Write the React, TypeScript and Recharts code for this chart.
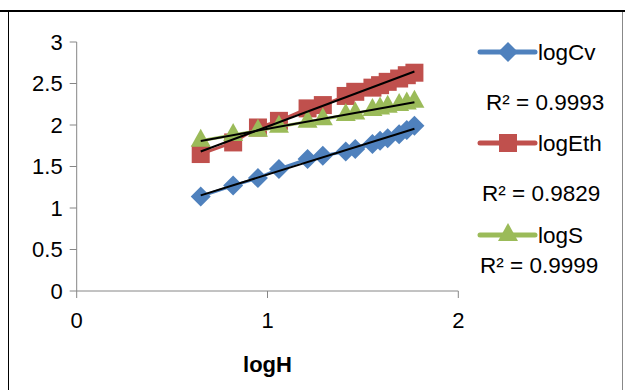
import React from "react";
import { ScatterChart, Scatter, XAxis, YAxis } from "recharts";

// logH values (shared by all three series)
const logH = [0.65, 0.82, 0.95, 1.06, 1.21, 1.29, 1.41, 1.46, 1.55, 1.59, 1.63, 1.69, 1.73, 1.77];
const logCv = [1.14, 1.27, 1.36, 1.47, 1.59, 1.63, 1.68, 1.71, 1.77, 1.81, 1.84, 1.89, 1.94, 1.99];
const logEth = [1.65, 1.79, 1.97, 2.05, 2.2, 2.24, 2.35, 2.4, 2.45, 2.48, 2.52, 2.56, 2.6, 2.63];
const logS = [1.81, 1.88, 1.93, 1.98, 2.04, 2.07, 2.12, 2.14, 2.18, 2.2, 2.22, 2.24, 2.26, 2.28];

const seriesNames = ["logCv", "logEth", "logS"];
const rSquared = ["R² = 0.9993", "R² = 0.9829", "R² = 0.9999"];
const xTicks = [0, 1, 2];
const yTicks = [0, 0.5, 1, 1.5, 2, 2.5, 3];

const BLUE = "#4F81BD";
const RED = "#C0504D";
const GREEN = "#9BBB59";
const AXIS = "#868686";
const FONT = "'Liberation Sans', Arial, sans-serif";

const toPoints = (ys: number[]) => logH.map((x, i) => ({ x, y: ys[i] }));

// least squares trendline, from min to max x
const trend = (ys: number[]) => {
  const n = logH.length;
  const mx = logH.reduce((a, b) => a + b, 0) / n;
  const my = ys.reduce((a, b) => a + b, 0) / n;
  let sxy = 0;
  let sxx = 0;
  logH.forEach((x, i) => {
    sxy += (x - mx) * (ys[i] - my);
    sxx += (x - mx) * (x - mx);
  });
  const b = sxy / sxx;
  const a = my - b * mx;
  const x0 = Math.min(...logH);
  const x1 = Math.max(...logH);
  return [
    { x: x0, y: a + b * x0 },
    { x: x1, y: a + b * x1 },
  ];
};

const Diamond = ({ cx, cy, fill }: any) => (
  <path d={`M${cx},${cy - 10} L${cx + 10},${cy} L${cx},${cy + 10} L${cx - 10},${cy} Z`} fill={fill} />
);
const Square = ({ cx, cy, fill }: any) => (
  <rect x={cx - 9} y={cy - 9} width={18} height={18} fill={fill} />
);
const Triangle = ({ cx, cy, fill }: any) => (
  <path d={`M${cx},${cy - 12} L${cx + 10},${cy + 6} L${cx - 10},${cy + 6} Z`} fill={fill} />
);
const NoDot = () => <g />;

const LegendBox = () => {
  const items = [
    { color: BLUE, y: 32, rY: 82, rX: 16, Mark: Diamond },
    { color: RED, y: 123, rY: 173, rX: 12, Mark: Square },
    { color: GREEN, y: 215, rY: 245, rX: 10, Mark: Triangle },
  ];
  return (
    <svg
      width={155}
      height={270}
      style={{ position: "absolute", left: 470, top: 20, overflow: "visible" }}
    >
      {items.map((it, i) => (
        <g key={seriesNames[i]}>
          <line x1={10} x2={65} y1={it.y} y2={it.y} stroke={it.color} strokeWidth={5} strokeLinecap="round" />
          <it.Mark cx={38} cy={it.y} fill={it.color} />
          <text x={68} y={it.y} dy="0.35em" fontFamily={FONT} fontSize={22.5} fill="#000">
            {seriesNames[i]}
          </text>
          <text x={it.rX} y={it.rY} dy="0.35em" fontFamily={FONT} fontSize={22.5} fill="#000">
            {rSquared[i]}
          </text>
        </g>
      ))}
    </svg>
  );
};

export default function App() {
  return (
    <div style={{ position: "absolute", left: 0, top: 0, width: 625, height: 390, background: "#fff", overflow: "hidden" }}>
      <div style={{ position: "absolute", left: 0, top: 10, width: 625, height: 2, background: "#000" }} />
      <div
        style={{
          position: "absolute",
          left: 8,
          top: 12,
          width: 613,
          height: 390,
          borderLeft: "1px solid #000",
          borderRight: "1px solid #888",
        }}
      />
      <div style={{ position: "absolute", left: 0, top: 0 }}>
        <ScatterChart width={625} height={390} margin={{ top: 42, right: 166.7, left: 0, bottom: 0 }}>
          <XAxis
            type="number"
            dataKey="x"
            domain={[0, 2]}
            ticks={xTicks}
            height={99}
            stroke={AXIS}
            tickSize={7}
            tickMargin={14}
            tick={{ fill: "#000", fontSize: 22, fontFamily: FONT }}
            label={{
              value: "logH",
              position: "insideBottom",
              offset: 18,
              style: { fill: "#000", fontSize: 22, fontWeight: "bold", fontFamily: FONT },
            }}
          />
          <YAxis
            type="number"
            dataKey="y"
            domain={[0, 3]}
            ticks={yTicks}
            width={76.7}
            stroke={AXIS}
            tickSize={7}
            tickMargin={7}
            tick={{ fill: "#000", fontSize: 22, fontFamily: FONT }}
          />
          <Scatter data={toPoints(logCv)} fill={BLUE} line={{ stroke: BLUE, strokeWidth: 3 }} shape={Diamond} isAnimationActive={false} />
          <Scatter data={toPoints(logEth)} fill={RED} line={{ stroke: RED, strokeWidth: 3 }} shape={Square} isAnimationActive={false} />
          <Scatter data={toPoints(logS)} fill={GREEN} line={{ stroke: GREEN, strokeWidth: 3 }} shape={Triangle} isAnimationActive={false} />
          <Scatter data={trend(logCv)} line={{ stroke: "#000", strokeWidth: 2 }} shape={NoDot} isAnimationActive={false} />
          <Scatter data={trend(logEth)} line={{ stroke: "#000", strokeWidth: 2 }} shape={NoDot} isAnimationActive={false} />
          <Scatter data={trend(logS)} line={{ stroke: "#000", strokeWidth: 2 }} shape={NoDot} isAnimationActive={false} />
        </ScatterChart>
      </div>
      <LegendBox />
    </div>
  );
}
